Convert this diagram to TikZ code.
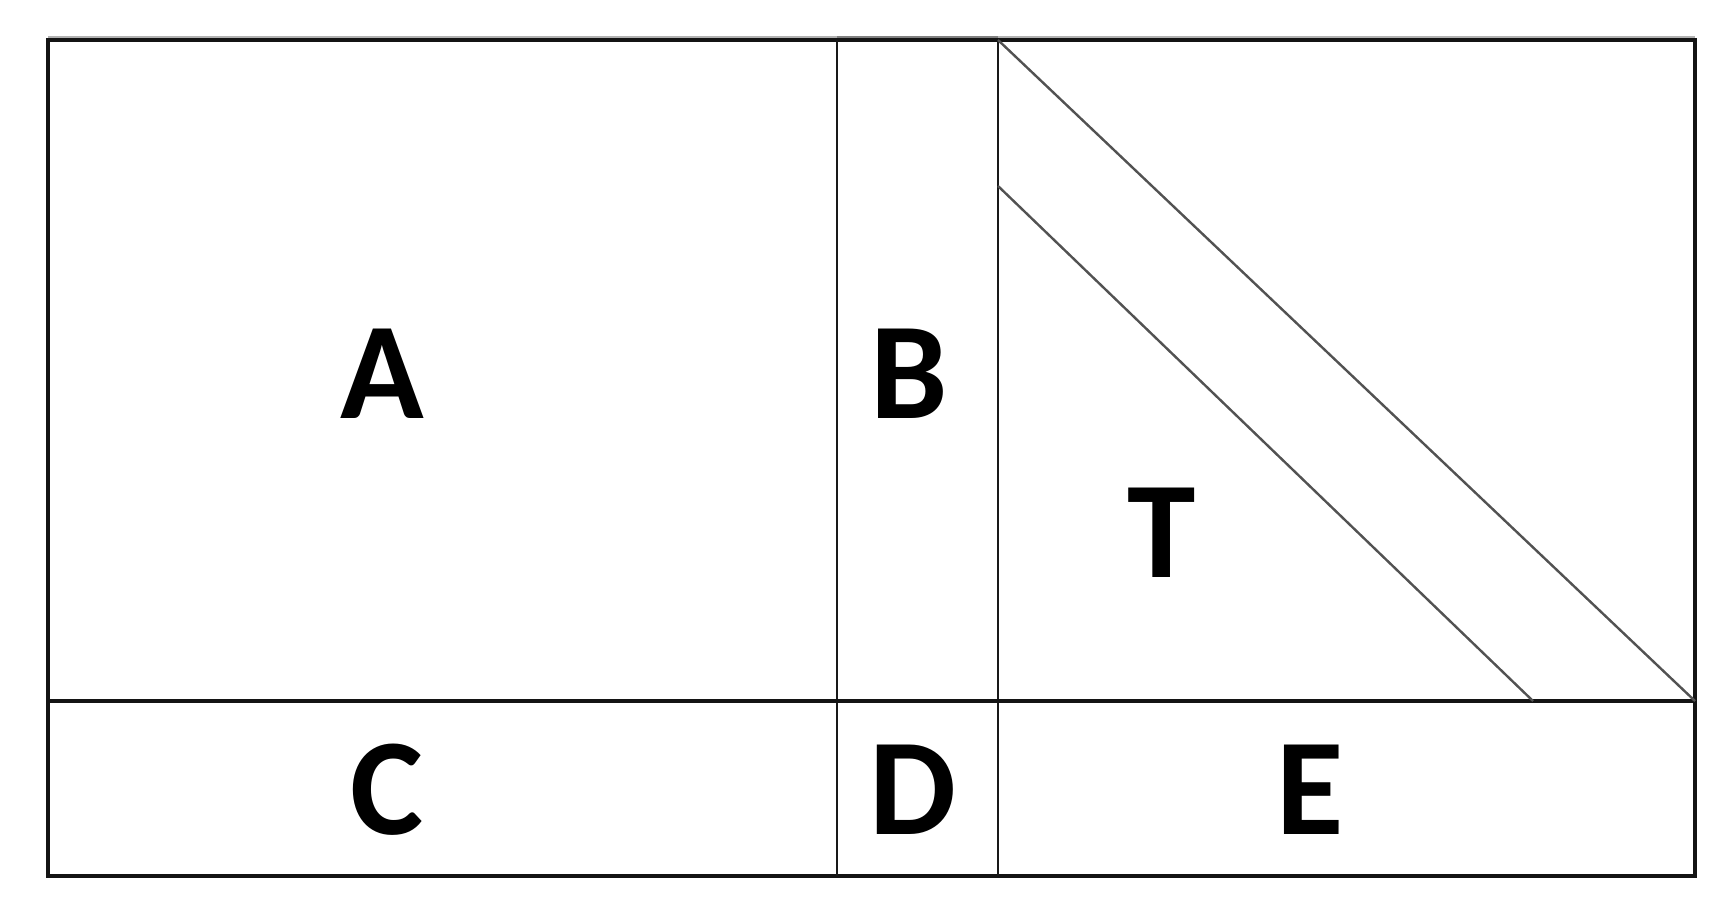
\documentclass[tikz,border=0pt]{standalone}
\usepackage{fontspec}
\setmainfont{Carlito}
\begin{document}
\begin{tikzpicture}[x=1pt,y=-1pt,
  frame/.style={draw=black!92,line width=3.4pt},
  inner/.style={draw=black!90,line width=2.8pt},
  diag/.style={draw=black!68,line width=2.4pt},
  shade/.style={draw=black!30,line width=3pt},
  letter/.style={font=\fontsize{138}{140}\bfseries\selectfont,anchor=base,inner sep=0pt}]
\useasboundingbox (0,0) rectangle (1730,922);
% corners
\coordinate (tl) at (48,40);
\coordinate (tr) at (1695,40);
\coordinate (bl) at (48,876);
\coordinate (br) at (1695,876);
\coordinate (t1) at (837,40);
\coordinate (t2) at (998,40);
\coordinate (b1) at (837,876);
\coordinate (b2) at (998,876);
\coordinate (ml) at (48,701);
\coordinate (mr) at (1695,701);
\coordinate (d2s) at (998,186);
\coordinate (d2e) at (1533,701);
% faint trace above the top edge
\draw[shade] (48,37) -- (1695,37);
\draw[draw=black!50,line width=3pt] (837,37) -- (998,37);
% frame
\draw[frame] (tl) -- (tr) -- (br) -- (bl) -- cycle;
\draw[inner] (t1) -- (b1);
\draw[inner] (t2) -- (b2);
\draw[frame] (ml) -- (mr);
\draw[diag] (t2) -- (mr);
\draw[diag] (d2s) -- (d2e);
% labels
\node[letter] (A) at (382,418) {A};
\node[letter] (B) at (909,418) {B};
\node[letter] (T) at (1162,577) {T};
\node[letter] (C) at (387,834) {C};
\node[letter] (D) at (913,834) {D};
\node[letter] (E) at (1310,834) {E};
\end{tikzpicture}
\end{document}
